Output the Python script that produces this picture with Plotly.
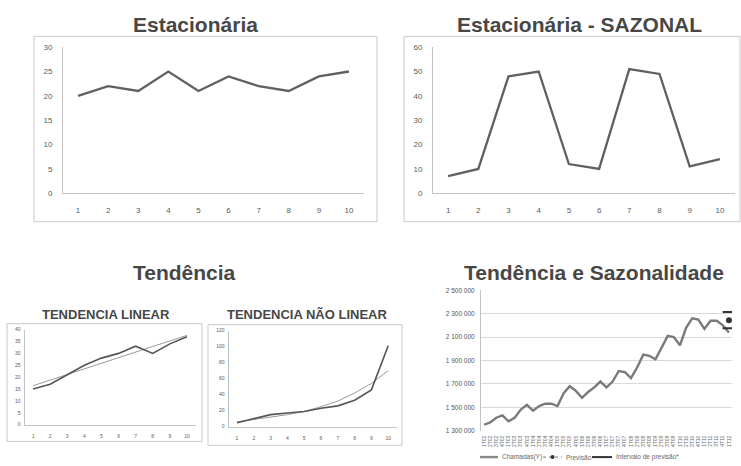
import plotly.graph_objects as go

W, H = 741, 466

# --- dados ---
periodos = [1, 2, 3, 4, 5, 6, 7, 8, 9, 10]
estacionaria = [20, 22, 21, 25, 21, 24, 22, 21, 24, 25]
sazonal = [7, 10, 48, 50, 12, 10, 51, 49, 11, 14]
linear = [15, 17, 21, 25, 28, 30, 33, 30, 34, 37]
linear_tendencia = [16.4, 18.8, 21.1, 23.5, 25.8, 28.2, 30.5, 32.9, 35.2, 37.6]
nao_linear = [5, 10, 15, 17, 19, 23, 26, 33, 46, 101]
nao_linear_tendencia = [6, 9, 12, 15, 19, 25, 32, 42, 54, 70]

trimestres = [
    "1T02", "2T02", "3T02", "4T02", "1T03", "2T03", "3T03", "4T03",
    "1T04", "2T04", "3T04", "4T04", "1T05", "2T05", "3T05", "4T05",
    "1T06", "2T06", "3T06", "4T06", "1T07", "2T07", "3T07", "4T07",
    "1T08", "2T08", "3T08", "4T08", "1T09", "2T09", "3T09", "4T09",
    "1T10", "2T10", "3T10", "4T10", "1T11", "2T11", "3T11", "4T11",
    "1T12",
]
chamadas = [
    1350000, 1370000, 1410000, 1430000, 1380000, 1410000, 1480000, 1520000,
    1470000, 1510000, 1530000, 1530000, 1510000, 1620000, 1680000, 1640000,
    1580000, 1630000, 1670000, 1720000, 1670000, 1720000, 1810000, 1800000,
    1750000, 1840000, 1950000, 1940000, 1910000, 2010000, 2110000, 2100000,
    2030000, 2180000, 2260000, 2250000, 2170000, 2240000, 2240000, 2200000,
    2140000,
]
previsao = [2245000]
intervalo = [2315000, 2175000]
ticks_chamadas = [1300000, 1500000, 1700000, 1900000, 2100000, 2300000, 2500000]
ticks_chamadas_txt = ["1 300 000", "1 500 000", "1 700 000", "1 900 000",
                      "2 100 000", "2 300 000", "2 500 000"]

FONT = "Liberation Sans"
AXIS = "#c4c4c4"
LINE = "#606060"
TXT = "#5a5a5a"


def px(x):
    return x / W


def py(y):
    return 1 - y / H


fig = go.Figure()

# painel 1 e 2
fig.add_trace(go.Scatter(x=periodos, y=estacionaria, mode="lines",
                         line=dict(color=LINE, width=2.3), xaxis="x", yaxis="y"))
fig.add_trace(go.Scatter(x=periodos, y=sazonal, mode="lines",
                         line=dict(color=LINE, width=2.3), xaxis="x2", yaxis="y2"))
# tendencias
fig.add_trace(go.Scatter(x=periodos, y=linear_tendencia, mode="lines",
                         line=dict(color="#9a9a9a", width=1), xaxis="x3", yaxis="y3"))
fig.add_trace(go.Scatter(x=periodos, y=linear, mode="lines",
                         line=dict(color="#555555", width=1.6), xaxis="x3", yaxis="y3"))
fig.add_trace(go.Scatter(x=periodos, y=nao_linear_tendencia, mode="lines",
                         line=dict(color="#9a9a9a", width=1), xaxis="x4", yaxis="y4"))
fig.add_trace(go.Scatter(x=periodos, y=nao_linear, mode="lines",
                         line=dict(color="#555555", width=1.6), xaxis="x4", yaxis="y4"))
# tendencia e sazonalidade
fig.add_trace(go.Scatter(x=trimestres, y=chamadas, mode="lines",
                         line=dict(color="#7a7a7a", width=2.4), xaxis="x5", yaxis="y5"))
fig.add_trace(go.Scatter(x=[trimestres[-1]], y=previsao, mode="markers",
                         marker=dict(color="#333333", size=6), xaxis="x5", yaxis="y5"))
fig.add_trace(go.Scatter(x=[trimestres[-1]] * 2, y=intervalo, mode="markers",
                         marker=dict(symbol="line-ew", size=9,
                                     line=dict(color="#333333", width=2)),
                         xaxis="x5", yaxis="y5"))


def eixo_x(dom, anchor, size, standoff):
    return dict(domain=dom, anchor=anchor, range=[0.5, 10.5], tickvals=periodos,
                showline=True, linecolor=AXIS, linewidth=1, showgrid=False,
                zeroline=False, ticks="outside", ticklen=standoff,
                tickcolor="rgba(0,0,0,0)", tickfont=dict(size=size, color=TXT, family=FONT))


def eixo_y(dom, anchor, rng, dtick, size, standoff):
    return dict(domain=dom, anchor=anchor, range=rng, dtick=dtick,
                showline=True, linecolor=AXIS, linewidth=1, showgrid=False,
                zeroline=False, ticks="outside", ticklen=standoff,
                tickcolor="rgba(0,0,0,0)", tickfont=dict(size=size, color=TXT, family=FONT))


d1x = [px(63), px(364)]
d2x = [px(433), px(735)]
dtop = [py(193), py(44)]
d3x = [px(24.5), px(195.5)]
d3y = [py(429), py(332)]
d4x = [px(228.6), px(396.6)]
d4y = [py(431), py(333)]
d5x = [px(481), px(732)]
d5y = [py(435), py(292)]

shapes = []
for x0, y0, x1, y1 in [(34, 33, 377, 222), (404, 33, 740, 222),
                       (7, 326, 202, 446), (208, 327, 402, 450)]:
    shapes.append(dict(type="rect", xref="paper", yref="paper",
                       x0=px(x0), x1=px(x1), y0=py(y0), y1=py(y1),
                       line=dict(color="#c8c8c8", width=1)))

# legenda manual
shapes += [
    dict(type="line", xref="paper", yref="paper", x0=px(480), x1=px(498),
         y0=py(462), y1=py(462), line=dict(color="#8a8a8a", width=2.4)),
    dict(type="line", xref="paper", yref="paper", x0=px(543), x1=px(562),
         y0=py(462), y1=py(462), line=dict(color="#777777", width=1, dash="dot")),
    dict(type="circle", xref="paper", yref="paper", x0=px(550.5), x1=px(554.5),
         y0=py(464), y1=py(460), fillcolor="#333333", line=dict(width=0)),
    dict(type="line", xref="paper", yref="paper", x0=px(592), x1=px(612),
         y0=py(462), y1=py(462), line=dict(color="#333333", width=2)),
]

titulos = [
    ("Estacionária", 195, 21, 21),
    ("Estacionária - SAZONAL", 579, 21, 21),
    ("Tendência", 184, 274, 21),
    ("Tendência e Sazonalidade", 594, 274, 21),
    ("TENDENCIA LINEAR", 106, 317, 13),
    ("TENDENCIA NÃO LINEAR", 307, 317, 13),
]
annotations = [
    dict(text=t, x=px(x), y=py(y), xref="paper", yref="paper", showarrow=False,
         xanchor="center", yanchor="middle",
         font=dict(family=FONT, size=s, color="#474747", weight="bold"))
    for t, x, y, s in titulos
]
for t, x in [("Chamadas(Y)", 500), ("Previsão", 564), ("Intervalo de previsão*", 614)]:
    annotations.append(dict(text=t, x=px(x), y=py(462), xref="paper", yref="paper",
                            showarrow=False, xanchor="left", yanchor="middle",
                            font=dict(family=FONT, size=6.5, color="#666666")))

fig.update_layout(
    width=W, height=H, margin=dict(l=0, r=0, t=0, b=0),
    paper_bgcolor="white", plot_bgcolor="white", showlegend=False,
    font=dict(family=FONT),
    xaxis=eixo_x(d1x, "y", 8, 9),
    yaxis=eixo_y(dtop, "x", [0, 30], 5, 8, 8),
    xaxis2=eixo_x(d2x, "y2", 8, 9),
    yaxis2=eixo_y(dtop, "x2", [0, 60], 10, 8, 8),
    xaxis3=eixo_x(d3x, "y3", 5, 6),
    yaxis3=eixo_y(d3y, "x3", [0, 40], 5, 5, 2),
    xaxis4=eixo_x(d4x, "y4", 5, 6),
    yaxis4=eixo_y(d4y, "x4", [0, 120], 20, 5, 2),
    xaxis5=dict(domain=d5x, anchor="y5", type="category", range=[-0.5, 40.5],
                showline=False, showgrid=False, zeroline=False, tickangle=-90,
                ticks="outside", ticklen=2, tickcolor="rgba(0,0,0,0)",
                tickfont=dict(size=5, color="#666666", family=FONT)),
    yaxis5=dict(domain=d5y, anchor="x5", range=[1300000, 2500000],
                tickvals=ticks_chamadas, ticktext=ticks_chamadas_txt,
                showline=True, linecolor=AXIS, linewidth=1,
                showgrid=True, gridcolor="#d9d9d9", gridwidth=1, zeroline=False,
                ticks="outside", ticklen=4, tickcolor="rgba(0,0,0,0)",
                tickfont=dict(size=6.5, color="#555555", family=FONT)),
    shapes=shapes,
    annotations=annotations,
)

# a pagina tem margem de 8px no body; sem ela a figura cabe inteira na janela
fig.write_html("out.html", config={"displayModeBar": False},
               post_script="document.body.style.margin='0';")
